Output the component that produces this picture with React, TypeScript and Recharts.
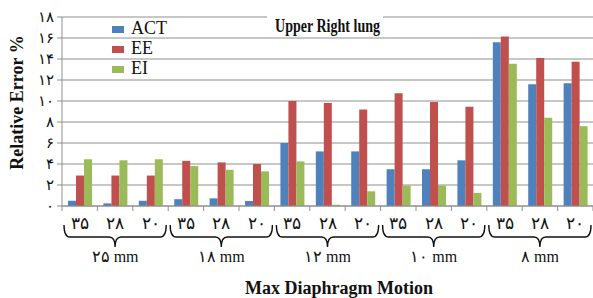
import { BarChart, Bar, XAxis, YAxis, CartesianGrid } from 'recharts'

// max diaphragm motion groups (mm) and the sub categories inside each group
const motions = [25, 18, 12, 10, 8]
const subLabels = [35, 28, 20]

const seriesNames = ['ACT', 'EE', 'EI']
const seriesColors = ['#4F81BD', '#C0504D', '#9BBB59']

const act = [0.5, 0.25, 0.5, 0.65, 0.73, 0.48, 6.0, 5.2, 5.2, 3.5, 3.5, 4.35, 15.6, 11.6, 11.7]
const ee = [2.9, 2.9, 2.9, 4.3, 4.15, 4.0, 10.0, 9.8, 9.2, 10.75, 9.9, 9.45, 16.15, 14.1, 13.75]
const ei = [4.45, 4.35, 4.45, 3.8, 3.45, 3.3, 4.25, 0.12, 1.4, 1.95, 1.95, 1.25, 13.55, 8.4, 7.6]

const yTicks = [0, 2, 4, 6, 8, 10, 12, 14, 16, 18]

const W = 593
const H = 298
const FONT = "'Liberation Serif', 'Times New Roman', serif"
const GRID = '#8f8f8f'

const fa = (n: number | string) =>
  String(n).replace(/\d/g, (d) => '۰۱۲۳۴۵۶۷۸۹'[Number(d)])

const data = motions.flatMap((m, gi) =>
  subLabels.map((s, si) => {
    const i = gi * subLabels.length + si
    return { key: `${m}-${s}`, sub: s, group: m, ACT: act[i], EE: ee[i], EI: ei[i] }
  })
)

function CatTick(props: any) {
  const { x, y, payload, index } = props
  const half = payload.offset ?? 17.7
  const row = data[index]
  const pos = index % subLabels.length
  const isLast = index === data.length - 1
  const top = y + 19
  const mid = y + 31
  const bot = y + 41
  const r = 6
  let brace = null
  if (pos === 1) {
    const x0 = x - 3 * half + 2
    const x1 = x + 3 * half - 2
    const d = `M ${x0} ${top} Q ${x0} ${mid} ${x0 + r} ${mid} L ${x - r} ${mid} Q ${x} ${mid} ${x} ${bot} Q ${x} ${mid} ${x + r} ${mid} L ${x1 - r} ${mid} Q ${x1} ${mid} ${x1} ${top}`
    brace = (
      <g>
        <path d={d} fill="none" stroke="#111" strokeWidth={1.4} />
        <text x={x} y={y + 56} textAnchor="middle" fontSize={16} fontFamily={FONT} fill="#111">
          {fa(row.group) + ' mm'}
        </text>
      </g>
    )
  }
  return (
    <g>
      <line x1={x - half} x2={x - half} y1={y} y2={y + 5} stroke={GRID} />
      {isLast && <line x1={x + half} x2={x + half} y1={y} y2={y + 5} stroke={GRID} />}
      <text x={x} y={y + 23} textAnchor="middle" fontSize={17} fontFamily={FONT} fill="#111">
        {fa(row.sub)}
      </text>
      {brace}
    </g>
  )
}

export default function App() {
  const series = [act, ee, ei]
  return (
    <div style={{ position: 'absolute', left: 0, top: 0, width: W, height: H, background: '#fff' }}>
      <BarChart
        width={W}
        height={H}
        data={data}
        margin={{ top: 17, right: 0, left: 0, bottom: 0 }}
        barCategoryGap="17%"
        barGap={0}
      >
        <CartesianGrid vertical={false} stroke={GRID} />
        <XAxis
          dataKey="key"
          height={92}
          interval={0}
          tickSize={0}
          tickMargin={0}
          tickLine={false}
          axisLine={{ stroke: GRID }}
          tick={<CatTick />}
        />
        <YAxis
          width={62}
          domain={[0, 18]}
          ticks={yTicks}
          interval={0}
          tickSize={5}
          tickMargin={3}
          axisLine={{ stroke: GRID }}
          tickLine={{ stroke: GRID }}
          tick={{ fontSize: 15, fill: '#111', fontFamily: FONT }}
          tickFormatter={(v: number) => fa(v)}
        />
        {seriesNames.map((n, i) => (
          <Bar key={n} dataKey={n} fill={seriesColors[i]} isAnimationActive={false} />
        ))}
      </BarChart>
      <svg
        width={W}
        height={H}
        style={{ position: 'absolute', left: 0, top: 0, pointerEvents: 'none' }}
      >
        <rect x={267} y={10} width={116} height={14} fill="#fff" />
        <text
          x={327.5}
          y={31.5}
          textAnchor="middle"
          fontSize={19}
          fontWeight="bold"
          fontFamily={FONT}
          textLength={105}
          lengthAdjust="spacingAndGlyphs"
          fill="#111"
        >
          Upper Right lung
        </text>
        {seriesNames.map((n, i) => (
          <g key={n}>
            <rect x={112} y={26 + i * 20} width={12} height={7} fill={seriesColors[i]} />
            <text x={131} y={34 + i * 20} fontSize={18} fontFamily={FONT} fill="#111">
              {n}
            </text>
          </g>
        ))}
        <text
          transform="translate(23 102.5) rotate(-90)"
          textAnchor="middle"
          fontSize={18}
          fontWeight="bold"
          fontFamily={FONT}
          fill="#111"
        >
          Relative Error %
        </text>
        <text
          x={339}
          y={294}
          textAnchor="middle"
          fontSize={18}
          fontWeight="bold"
          fontFamily={FONT}
          fill="#111"
        >
          Max Diaphragm Motion
        </text>
      </svg>
      {series.length === 0 && null}
    </div>
  )
}
